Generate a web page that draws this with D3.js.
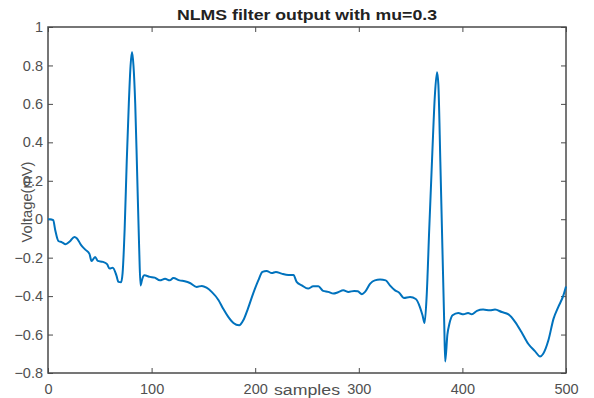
<!DOCTYPE html>
<html>
<head>
<meta charset="utf-8">
<script src="https://cdn.jsdelivr.net/npm/d3@7.9.0/dist/d3.min.js"></script>
<style>
  html, body { margin: 0; padding: 0; background: #fff; }
  svg { display: block; font-family: "Liberation Sans", Arial, sans-serif; }
</style>
</head>
<body>
<svg id="chart" width="594" height="398"></svg>
<script>
// ========== Data ==========

const chartTitle = 'NLMS filter output with mu=0.3';
const xLabel = 'samples';
const yLabel = 'Voltage(mV)';

const xTicks = [0, 100, 200, 300, 400, 500];
const yTicks = [-0.8, -0.6, -0.4, -0.2, 0, 0.2, 0.4, 0.6, 0.8, 1];

// sample index of each read point
const samples = [
  0, 2, 5, 7, 10, 13.5, 17, 21, 25.5, 28, 32, 36, 40, 42, 45.5, 48, 53, 57, 59.5, 62.5,
  66, 68, 70.5, 72, 74, 76, 78, 79.7, 81.1, 82.5, 84.2, 86, 88, 89.3, 91, 93,
  98.5, 103, 108, 113, 117.5, 121, 127, 132, 137, 143.5, 148.5, 153, 158, 164.5,
  169, 174, 179, 184.5, 188.5, 193, 198, 203, 207, 211, 216, 220, 225.5, 232, 237,
  240, 245, 251, 256, 261, 265.5, 270.5, 275.5, 280, 285, 290, 295.5, 299, 303, 306,
  311, 315.5, 320.5, 326, 330, 335, 339, 343.5, 349.5, 355, 359, 361.5, 363.5,
  365.5, 368, 371, 373.5, 375.5, 376.8, 378.7, 380.7, 382.5, 383.4, 385.5, 387.5, 390.5,
  396, 401, 405.5, 409, 414, 420, 426.5, 431.5, 438, 444.5, 451, 457, 463.5, 470,
  475, 478, 483, 488, 492.5, 497.5, 500
];

// filter output voltage at each sample (mV)
const voltage = [
  0.0, 0.0, -0.005, -0.057, -0.113, -0.12, -0.13, -0.116, -0.092, -0.1, -0.135, -0.158, -0.18, -0.217, -0.196, -0.217, -0.222, -0.234, -0.257, -0.252,
  -0.292, -0.326, -0.328, -0.28, -0.05, 0.3, 0.6, 0.8, 0.87, 0.8, 0.6, 0.25, -0.15, -0.345, -0.31, -0.292,
  -0.3, -0.304, -0.318, -0.31, -0.318, -0.306, -0.318, -0.323, -0.332, -0.352, -0.347, -0.356, -0.378, -0.42,
  -0.465, -0.508, -0.54, -0.552, -0.526, -0.465, -0.387, -0.318, -0.274, -0.269, -0.28, -0.274, -0.283, -0.29, -0.29,
  -0.326, -0.344, -0.361, -0.349, -0.349, -0.373, -0.378, -0.387, -0.38, -0.37, -0.378, -0.373, -0.375, -0.39, -0.378,
  -0.335, -0.318, -0.314, -0.318, -0.344, -0.37, -0.382, -0.41, -0.405, -0.415, -0.457, -0.5, -0.54,
  -0.4, -0.05, 0.35, 0.65, 0.765, 0.7, 0.3, -0.15, -0.55, -0.74, -0.6, -0.543, -0.5,
  -0.488, -0.495, -0.488, -0.495, -0.477, -0.47, -0.474, -0.47, -0.483, -0.495, -0.535, -0.587, -0.648, -0.686,
  -0.714, -0.7, -0.63, -0.517, -0.457, -0.396, -0.35
];

// ========== Layout ==========

const margin = { top: 27, right: 28, bottom: 25, left: 48 };
const width = 594;
const height = 398;
const innerW = width - margin.left - margin.right;
const innerH = height - margin.top - margin.bottom;

const svg = d3.select('#chart');

const x = d3.scaleLinear().domain([0, 500]).range([margin.left, margin.left + innerW]);
const y = d3.scaleLinear().domain([-0.8, 1]).range([margin.top + innerH, margin.top]);

const axisColor = '#4a4a4a';
const labelColor = '#505050';
const tickLen = 5;

// ========== Axes (MATLAB style box, ticks inside) ==========

const fmt = (d) => (d === 0 ? '0' : d3.format('')(+d.toFixed(1)));

svg.append('g')
  .attr('transform', `translate(0,${margin.top + innerH})`)
  .call(d3.axisBottom(x).tickValues(xTicks).tickSize(-tickLen).tickPadding(tickLen + 6).tickFormat(d3.format('d')))
  .call((g) => g.select('.domain').remove());

svg.append('g')
  .attr('transform', `translate(0,${margin.top})`)
  .call(d3.axisTop(x).tickValues(xTicks).tickSize(-tickLen).tickFormat(''))
  .call((g) => g.select('.domain').remove());

svg.append('g')
  .attr('transform', `translate(${margin.left},0)`)
  .call(d3.axisLeft(y).tickValues(yTicks).tickSize(-tickLen).tickPadding(5).tickFormat(fmt))
  .call((g) => g.select('.domain').remove());

svg.append('g')
  .attr('transform', `translate(${margin.left + innerW},0)`)
  .call(d3.axisRight(y).tickValues(yTicks).tickSize(-tickLen).tickFormat(''))
  .call((g) => g.select('.domain').remove());

svg.selectAll('.tick line').attr('stroke', axisColor).attr('stroke-width', 1);
svg.selectAll('.tick text')
  .attr('fill', labelColor)
  .attr('font-size', 14.5)
  .attr('font-family', '"Liberation Sans", Arial, sans-serif');

// frame
svg.append('rect')
  .attr('x', margin.left)
  .attr('y', margin.top)
  .attr('width', innerW)
  .attr('height', innerH)
  .attr('fill', 'none')
  .attr('stroke', axisColor)
  .attr('stroke-width', 1.5);

// ========== Signal line ==========

const points = samples.map((s, i) => [s, voltage[i]]);

const line = d3.line()
  .x((d) => x(d[0]))
  .y((d) => y(d[1]))
  .curve(d3.curveMonotoneX);

svg.append('path')
  .datum(points)
  .attr('d', line)
  .attr('fill', 'none')
  .attr('stroke', '#0072BD')
  .attr('stroke-width', 2)
  .attr('stroke-linejoin', 'round');

// ========== Labels ==========

svg.append('text')
  .attr('x', margin.left + innerW / 2)
  .attr('y', 20)
  .attr('text-anchor', 'middle')
  .attr('font-size', 14)
  .attr('font-weight', 'bold')
  .attr('fill', '#222')
  .attr('textLength', 260)
  .attr('lengthAdjust', 'spacingAndGlyphs')
  .text(chartTitle);

svg.append('text')
  .attr('x', margin.left + innerW / 2)
  .attr('y', 395)
  .attr('text-anchor', 'middle')
  .attr('font-size', 14)
  .attr('fill', labelColor)
  .attr('textLength', 66)
  .attr('lengthAdjust', 'spacingAndGlyphs')
  .text(xLabel);

svg.append('text')
  .attr('transform', 'translate(32,202) rotate(-90)')
  .attr('text-anchor', 'middle')
  .attr('font-size', 14)
  .attr('fill', labelColor)
  .attr('textLength', 81)
  .attr('lengthAdjust', 'spacingAndGlyphs')
  .text(yLabel);
</script>
</body>
</html>
